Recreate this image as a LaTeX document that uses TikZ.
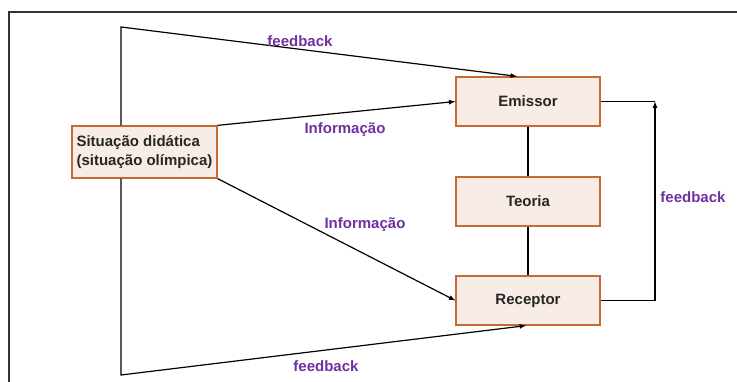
\documentclass[tikz,border=0pt]{standalone}
\usepackage{fontspec}
\setmainfont{Liberation Sans}
\usepackage{xcolor}
\usetikzlibrary{positioning}
\definecolor{boxfill}{HTML}{F8ECE6}
\definecolor{boxline}{HTML}{C46A32}
\definecolor{lblpurple}{HTML}{7030A0}

\begin{document}
\begin{tikzpicture}[x=1pt, y=1pt, >=latex, line width=1.2pt,
  font=\fontsize{15}{19}\selectfont\bfseries,
  box/.style={draw=boxline, fill=boxfill, line width=1.3pt, minimum width=144pt,
    minimum height=49pt, inner sep=2pt, text=black!85},
  lbl/.style={text=lblpurple}]
\useasboundingbox (0,0) rectangle (737,382);
% moldura
\draw[black!80, line width=2pt] (737,370) -- (9,370) -- (9,0);
\node[box, align=left, minimum width=145pt, minimum height=52pt] (sit) at (144.5,230)
  {Situação didática\\(situação olímpica)};
\node[box] (emi) at (528,280.5) {Emissor};
\node[box] (teo) at (528,180.5) {Teoria};
\node[box] (rec) at (528,81.5) {Receptor};
\coordinate (fbk) at (655,280.5);
\draw (emi) -- (teo);
\draw (teo) -- (rec);
\draw[->] (sit.north east) -- (emi.west);
\draw[->] (sit.south east) -- (rec.west);
\draw[->] (sit.north -| 121,0) -- (121,355) -- ([xshift=-11pt]emi.north);
\draw[->] (sit.south -| 121,0) -- (121,7) -- ([xshift=-2pt]rec.south);
\draw[->] (rec.east) -| (fbk);
\draw (emi.east) -- (fbk);
\node[lbl] (infotop) at (345,252) {Informação};
\node[lbl] (infobot) at (365,157) {Informação};
\node[lbl] (fbtop) at (300,341) {feedback};
\node[lbl] (fbbot) at (326,16) {feedback};
\node[lbl] (fbright) at (693,185) {feedback};
\end{tikzpicture}
\end{document}
